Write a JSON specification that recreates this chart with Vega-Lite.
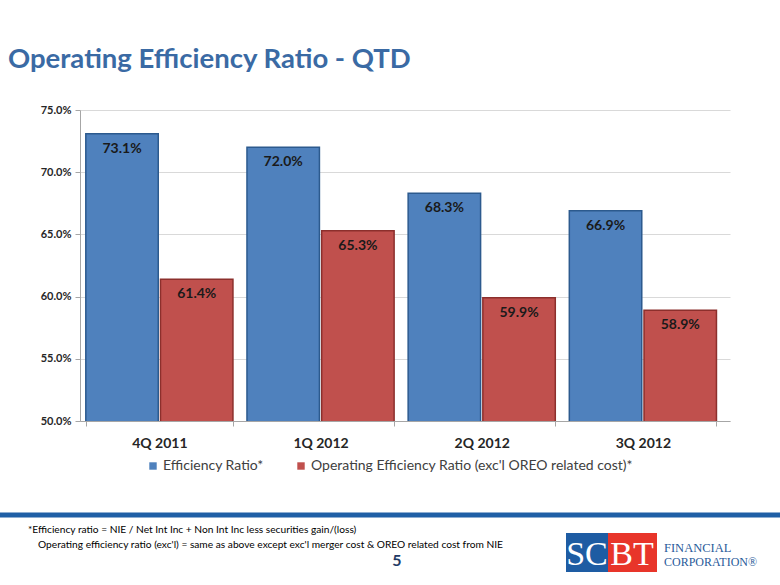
{
  "$schema": "https://vega.github.io/schema/vega-lite/v6.json",
  "width": 650,
  "height": 311,
  "autosize": {"type": "none"},
  "padding": {"left": 80, "top": 110, "right": 50, "bottom": 164},
  "background": "white",
  "config": {"view": {"stroke": null}, "font": "Lato"},
  "title": {
    "text": "Operating Efficiency Ratio - QTD",
    "anchor": "start",
    "frame": "group",
    "dx": -72,
    "offset": 31,
    "fontSize": 27.5,
    "font": "Lato",
    "fontWeight": "bold",
    "color": "#3A6AA4"
  },
  "datasets": {
    "bars": [
      {"quarter": "4Q 2011", "series": "Efficiency Ratio*", "value": 0.731},
      {"quarter": "4Q 2011", "series": "Operating Efficiency Ratio (exc'l OREO related cost)*", "value": 0.614},
      {"quarter": "1Q 2012", "series": "Efficiency Ratio*", "value": 0.720},
      {"quarter": "1Q 2012", "series": "Operating Efficiency Ratio (exc'l OREO related cost)*", "value": 0.653},
      {"quarter": "2Q 2012", "series": "Efficiency Ratio*", "value": 0.683},
      {"quarter": "2Q 2012", "series": "Operating Efficiency Ratio (exc'l OREO related cost)*", "value": 0.599},
      {"quarter": "3Q 2012", "series": "Efficiency Ratio*", "value": 0.669},
      {"quarter": "3Q 2012", "series": "Operating Efficiency Ratio (exc'l OREO related cost)*", "value": 0.589}
    ]
  },
  "layer": [
    {
      "data": {"name": "bars"},
      "mark": {"type": "bar", "strokeWidth": 1.5, "clip": true},
      "encoding": {
        "x": {
          "field": "quarter",
          "type": "nominal",
          "sort": null,
          "scale": {"paddingInner": 0.087, "paddingOuter": 0.06, "align": 0.3},
          "axis": {
            "title": null,
            "labelAngle": 0,
            "labelFont": "Lato",
            "labelFontWeight": "bold",
            "labelFontSize": 14,
            "labelColor": "#262626",
            "labelPadding": 10,
            "domainColor": "#a6a6a6",
            "tickColor": "#a6a6a6",
            "tickBand": "extent",
            "tickSize": 5
          }
        },
        "xOffset": {"field": "series", "type": "nominal", "sort": null, "scale": {"paddingInner": 0.03}},
        "y": {
          "field": "value",
          "type": "quantitative",
          "scale": {"domain": [0.5, 0.75], "zero": false, "nice": false},
          "axis": {
            "title": null,
            "values": [0.5, 0.55, 0.6, 0.65, 0.7, 0.75],
            "format": ".1%",
            "labelFont": "Lato",
            "labelFontWeight": "bold",
            "labelFontSize": 11,
            "labelColor": "#262626",
            "labelPadding": 4,
            "gridColor": "#d9d9d9",
            "domainColor": "#a6a6a6",
            "tickColor": "#a6a6a6",
            "tickSize": 5
          }
        },
        "fill": {
          "field": "series",
          "type": "nominal",
          "sort": null,
          "scale": {"range": ["#4F81BD", "#C0504D"]},
          "legend": {
            "title": null,
            "orient": "none",
            "legendX": 66,
            "legendY": 349,
            "direction": "horizontal",
            "symbolType": "square",
            "symbolSize": 55,
            "symbolStrokeWidth": 0,
            "symbolOpacity": 1,
            "labelFont": "Lato",
            "labelFontSize": 14,
            "labelColor": "#404040",
            "labelLimit": 0,
            "columnPadding": 30,
            "labelOffset": 3
          }
        },
        "stroke": {
          "field": "series",
          "type": "nominal",
          "sort": null,
          "scale": {"range": ["#2C5A8E", "#8C2F2C"]},
          "legend": null
        }
      }
    },
    {
      "data": {"name": "bars"},
      "mark": {"type": "text", "baseline": "middle", "dy": 15, "font": "Lato", "fontWeight": "bold", "fontSize": 14, "color": "#1a1a1a"},
      "encoding": {
        "x": {"field": "quarter", "type": "nominal", "sort": null},
        "xOffset": {"field": "series", "type": "nominal", "sort": null},
        "y": {"field": "value", "type": "quantitative"},
        "text": {"field": "value", "type": "quantitative", "format": ".1%"}
      }
    },
    {
      "data": {"values": [{"t": "sep"}]},
      "mark": {"type": "rule", "stroke": "#1F5FA6", "strokeWidth": 5},
      "encoding": {"x": {"value": -80}, "x2": {"value": 700}, "y": {"value": 405}}
    },
    {
      "data": {"values": [{"t": "*Efficiency ratio = NIE / Net Int Inc + Non Int Inc less securities gain/(loss)"}]},
      "mark": {"type": "text", "align": "left", "baseline": "middle", "font": "Lato", "fontSize": 10.2, "color": "#000000"},
      "encoding": {"x": {"value": -52}, "y": {"value": 420}, "text": {"field": "t"}}
    },
    {
      "data": {"values": [{"t": "Operating efficiency ratio (exc'l) = same as above except exc'l merger cost & OREO related cost from NIE"}]},
      "mark": {"type": "text", "align": "left", "baseline": "middle", "font": "Lato", "fontSize": 10.2, "color": "#000000"},
      "encoding": {"x": {"value": -42}, "y": {"value": 435}, "text": {"field": "t"}}
    },
    {
      "data": {"values": [{"t": "5"}]},
      "mark": {"type": "text", "align": "center", "baseline": "middle", "font": "Lato", "fontWeight": "bold", "fontSize": 16, "color": "#1F3B66"},
      "encoding": {"x": {"value": 317}, "y": {"value": 451}, "text": {"field": "t"}}
    },
    {
      "data": {"values": [{"t": "a"}]},
      "mark": {"type": "rect", "color": "#1E5CA3"},
      "encoding": {"x": {"value": 486}, "x2": {"value": 528}, "y": {"value": 423}, "y2": {"value": 462}}
    },
    {
      "data": {"values": [{"t": "b"}]},
      "mark": {"type": "rect", "color": "#E8352A"},
      "encoding": {"x": {"value": 528}, "x2": {"value": 577}, "y": {"value": 423}, "y2": {"value": 462}}
    },
    {
      "data": {"values": [{"t": "SC"}]},
      "mark": {"type": "text", "align": "center", "baseline": "middle", "font": "Liberation Serif", "fontSize": 34, "color": "white", "dy": 2},
      "encoding": {"x": {"value": 507}, "y": {"value": 443}, "text": {"field": "t"}}
    },
    {
      "data": {"values": [{"t": "BT"}]},
      "mark": {"type": "text", "align": "center", "baseline": "middle", "font": "Liberation Serif", "fontSize": 34, "color": "white", "dy": 2},
      "encoding": {"x": {"value": 552}, "y": {"value": 443}, "text": {"field": "t"}}
    },
    {
      "data": {"values": [{"t": "FINANCIAL"}]},
      "mark": {"type": "text", "align": "left", "baseline": "middle", "font": "Liberation Serif", "fontSize": 12.5, "color": "#2A5B9A"},
      "encoding": {"x": {"value": 584}, "y": {"value": 438}, "text": {"field": "t"}}
    },
    {
      "data": {"values": [{"t": "CORPORATION®"}]},
      "mark": {"type": "text", "align": "left", "baseline": "middle", "font": "Liberation Serif", "fontSize": 12, "color": "#2A5B9A"},
      "encoding": {"x": {"value": 584}, "y": {"value": 452}, "text": {"field": "t"}}
    }
  ]
}
